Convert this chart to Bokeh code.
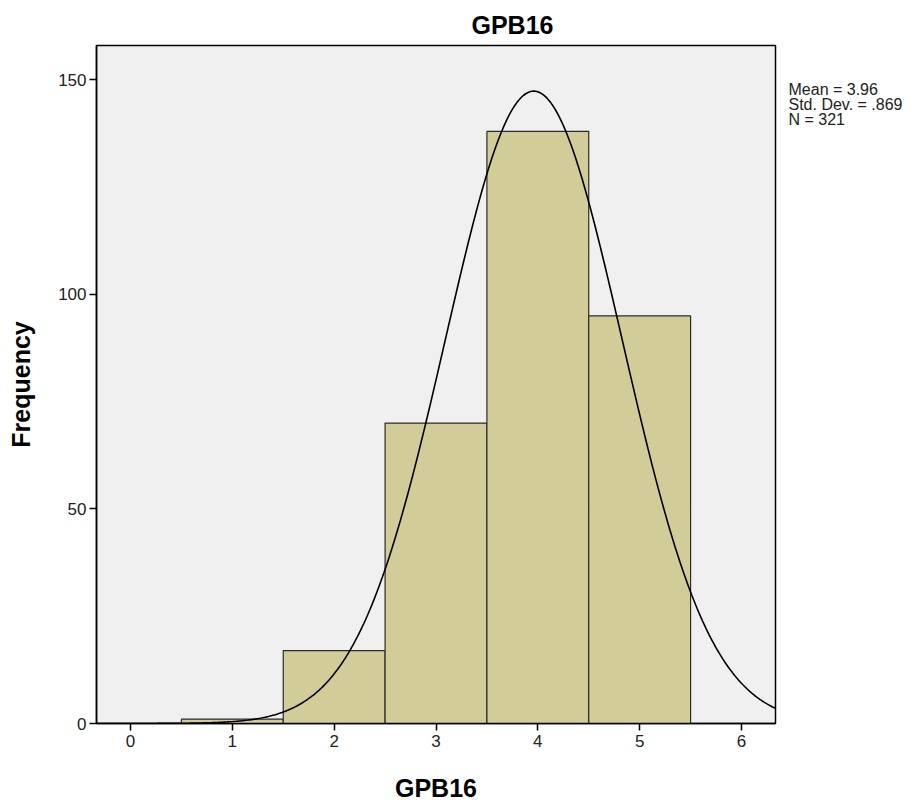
import numpy as np
from bokeh.plotting import figure
from bokeh.layouts import row
from bokeh.models import Range1d, FixedTicker, Title
from bokeh.core.properties import value
from bokeh.embed import file_html
from bokeh.resources import INLINE

# Data
bin_centers = [1, 2, 3, 4, 5]
frequencies = [1, 17, 70, 138, 95]
mean_val = 3.96
std_val = 0.869
n_val = 321
x_ticks = [0, 1, 2, 3, 4, 5, 6]
y_ticks = [0, 50, 100, 150]
stats_lines = ["Mean = 3.96", "Std. Dev. = .869", "N = 321"]

FONT = "Liberation Sans"

p = figure(width=785, height=804, output_backend="svg", toolbar_location=None,
           x_range=Range1d(-0.334, 6.334), y_range=Range1d(0, 158),
           min_border_left=96, min_border_right=10, min_border_top=45, min_border_bottom=80)

p.background_fill_color = "#f0f0f0"
p.border_fill_color = "white"
p.outline_line_color = "black"
p.outline_line_width = 1.5
p.xgrid.visible = False
p.ygrid.visible = False

p.vbar(x=bin_centers, top=frequencies, width=1.0, bottom=0,
       fill_color="#d2cd98", line_color="#2b2b2b", line_width=1.2)

xs = np.linspace(-0.334, 6.334, 400)
ys = n_val * 1.0 / (std_val * np.sqrt(2 * np.pi)) * np.exp(-0.5 * ((xs - mean_val) / std_val) ** 2)
p.line(xs, ys, line_color="black", line_width=1.6)

for ax in (p.xaxis[0], p.yaxis[0]):
    ax.major_tick_out = 7
    ax.major_tick_in = 0
    ax.minor_tick_out = 0
    ax.minor_tick_in = 0
    ax.axis_line_color = "black"
    ax.axis_line_width = 1.5
    ax.major_tick_line_color = "black"
    ax.major_tick_line_width = 1.5
    ax.major_label_text_font = FONT
    ax.major_label_text_font_size = "17px"
    ax.major_label_text_color = "#222222"
    ax.axis_label_text_font = FONT
    ax.axis_label_text_font_style = "bold"
    ax.axis_label_text_font_size = "25px"
    ax.axis_label_text_color = "black"

p.xaxis.ticker = FixedTicker(ticks=x_ticks)
p.yaxis.ticker = FixedTicker(ticks=y_ticks)
p.xaxis.major_label_standoff = 4
p.yaxis.major_label_standoff = 3
p.xaxis.axis_label = "GPB16"
p.yaxis.axis_label = "Frequency"
p.xaxis.axis_label_standoff = 24
p.yaxis.axis_label_standoff = 20

p.title = Title(text="GPB16", align="left", offset=375, standoff=14,
                text_font=FONT, text_font_style="bold", text_font_size="25px",
                text_color="black")

# side panel holding the summary statistics; its frame is aligned with the
# main plot frame, so y counts pixels down from the frame top
s = figure(width=136, height=804, output_backend="svg", toolbar_location=None,
           x_range=Range1d(0, 136), y_range=Range1d(679, 0),
           min_border=0, outline_line_color=None)
s.axis.visible = False
s.grid.visible = False
s.background_fill_color = "white"
s.border_fill_color = "white"
s.text(x=[3] * len(stats_lines), y=[36 + 15 * i for i in range(len(stats_lines))],
       text=stats_lines, text_font=value(FONT), text_font_size="16px",
       text_color="#222222", text_baseline="top", text_align="left")

layout = row(p, s, spacing=0)
open("out.html", "w").write(file_html(layout, INLINE))
